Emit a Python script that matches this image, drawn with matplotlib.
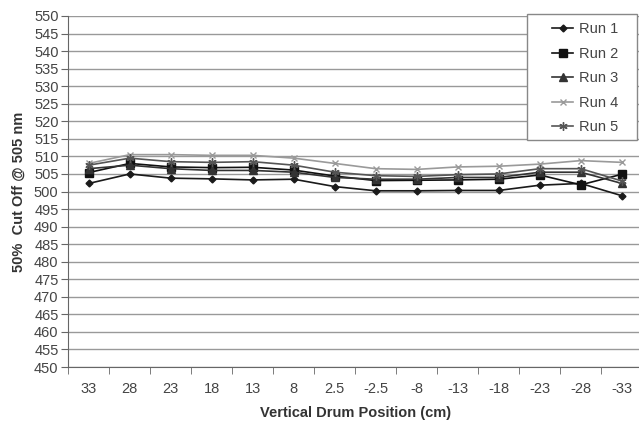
import numpy as np
import matplotlib.pyplot as plt
from matplotlib.patches import Rectangle

plt.rcParams['font.family'] = ['Liberation Sans', 'DejaVu Sans']

# x categories (vertical drum position, cm)
positions = ["33", "28", "23", "18", "13", "8", "2.5", "-2.5", "-8", "-13", "-18", "-23", "-28", "-33"]

run1 = [502.3, 505.0, 503.8, 503.6, 503.3, 503.5, 501.4, 500.2, 500.2, 500.3, 500.3, 501.8, 502.3, 498.8]
run2 = [505.4, 508.0, 507.0, 506.8, 506.9, 506.1, 504.4, 503.1, 503.2, 503.3, 503.5, 504.7, 501.9, 504.9]
run3 = [506.5, 507.5, 506.5, 506.0, 506.0, 505.5, 504.0, 503.5, 503.5, 504.0, 504.0, 505.5, 505.5, 502.3]
run4 = [508.0, 510.5, 510.5, 510.3, 510.3, 509.5, 508.0, 506.5, 506.3, 507.0, 507.2, 507.8, 508.8, 508.3]
run5 = [507.5, 509.5, 508.5, 508.3, 508.5, 507.5, 505.5, 504.5, 504.3, 504.8, 505.0, 506.5, 506.5, 503.0]

series = [
    ("Run 1", run1, "#1a1a1a", "D", 3.5),
    ("Run 2", run2, "#111111", "s", 5.5),
    ("Run 3", run3, "#333333", "^", 5.5),
    ("Run 4", run4, "#9a9a9a", "x", 5),
    ("Run 5", run5, "#555555", (6, 2, 0), 6),
]

fig = plt.figure(figsize=(6.39, 4.23), dpi=100)
ax = fig.add_axes([68.3 / 639, 1 - 367 / 423, 574 / 639, 351 / 423])

x = np.arange(len(positions))
for name, vals, col, mk, ms in series:
    ax.plot(x, vals, color=col, marker=mk, markersize=ms, linewidth=1.2,
            markeredgewidth=1, label=name)

ax.set_ylim(450, 550)
ax.set_yticks(np.arange(450, 551, 5))
ax.set_xlim(-0.5, len(positions) - 0.5)
ax.set_xticks(x)
ax.set_xticklabels(positions)
ax.set_xticks(np.arange(-0.5, len(positions), 1), minor=True)
ax.tick_params(axis='x', which='major', length=0, pad=11, labelsize=10.5, labelcolor='#444444')
ax.tick_params(axis='x', which='minor', length=5, direction='out', color='#666666')
ax.tick_params(axis='y', length=5, direction='out', color='#666666', labelsize=10.5,
               labelcolor='#444444', pad=2)

ax.grid(axis='y', color='#999999', linewidth=1)
ax.set_axisbelow(True)
for side in ['top', 'right']:
    ax.spines[side].set_visible(False)
for side in ['left', 'bottom']:
    ax.spines[side].set_color('#666666')

ax.set_xlabel("Vertical Drum Position (cm)", fontweight='bold', fontsize=10.5,
              color='#333333', labelpad=7)
ax.set_ylabel("50%  Cut Off @ 505 nm", fontweight='bold', fontsize=10.5,
              color='#333333', labelpad=6)

# legend box drawn by hand, entries placed inside it
ax.add_patch(Rectangle((527 / 639, 1 - 140 / 423), 110 / 639, 126 / 423,
                       transform=fig.transFigure, facecolor='white',
                       edgecolor='#888888', linewidth=1, zorder=5, clip_on=False))
leg = ax.legend(loc='upper left', bbox_to_anchor=(545 / 639, 1 - 15 / 423),
                bbox_transform=fig.transFigure, frameon=False, fontsize=10.5,
                handlelength=1.4, handletextpad=0.4, labelspacing=0.72, borderpad=0)
leg.set_zorder(6)
for t in leg.get_texts():
    t.set_color('#444444')

fig.savefig("out.png", dpi=100)
